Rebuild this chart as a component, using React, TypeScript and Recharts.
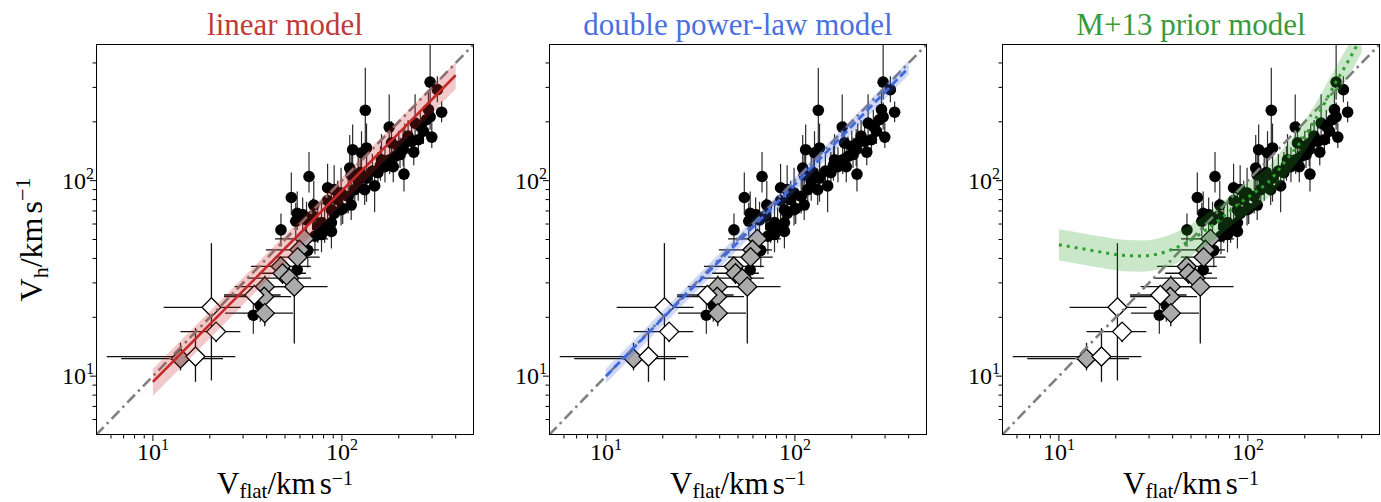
import React from "react";
import { ComposedChart, Scatter, Line, Area, XAxis, YAxis, ErrorBar } from "recharts";

// galaxies with flat rotation curves (black dots), V in km/s
const circVflat = [293, 337, 133, 287, 293, 244, 178, 270, 299, 224, 215, 234, 254, 114, 135, 127, 183, 203, 191, 179, 211, 162, 169, 155, 187, 213, 110, 112, 135, 122, 149, 132, 67, 54, 71, 84, 91, 99, 108, 117, 84, 101, 112, 91, 88, 78, 74.5, 58, 62, 57, 47.6, 88, 99, 81, 88, 78, 72, 66, 58, 37, 34, 320, 160, 145, 200, 260, 125, 95, 65, 70, 240, 280];
const circVh = [319, 224, 229, 231, 212, 197, 188, 179, 167, 169, 156, 159, 162, 144, 147, 139, 156, 136, 133, 128, 144, 128, 118, 110, 118, 108, 116, 107, 103, 99, 94, 90, 105, 82, 75, 92, 90, 86.5, 83, 90, 79, 72, 75, 68, 61, 61, 58, 68, 67, 62, 56, 71, 71, 58, 55, 53, 52, 44, 35, 23, 20.5, 292, 120, 112, 150, 190, 110, 80, 63, 66, 140, 205];
const circVhLo = [60, 25, 79, 30, 30, 30, 38, 25, 20, 25, 25, 20, 20, 30, 30, 25, 25, 20, 20, 20, 25, 20, 20, 20, 20, 20, 25, 20, 25, 20, 25, 15, 18, 15, 15, 20, 15, 15, 15, 15, 15, 12, 12, 12, 10, 10, 10, 12, 12, 10, 10, 12, 12, 10, 10, 10, 10, 8, 6, 4, 4, 40, 20, 20, 20, 25, 20, 15, 10, 10, 20, 25];
const circVhHi = [181, 30, 149, 60, 40, 80, 88, 35, 30, 35, 40, 30, 30, 50, 49, 40, 45, 30, 35, 30, 40, 45, 30, 30, 30, 25, 55, 30, 40, 35, 20, 25, 35, 28, 25, 30, 30, 30, 25, 25, 20, 20, 20, 20, 15, 18, 15, 20, 15, 15, 12, 18, 18, 15, 15, 12, 12, 10, 8, 5, 5, 50, 30, 25, 30, 40, 25, 20, 15, 15, 30, 35];

// grey diamonds
const grayVflat = [63.3, 59.6, 58.3, 47.5, 48.5, 52.7, 56, 39.1, 38.8, 39.1, 14.0];
const grayVh = [50.4, 44.3, 40.6, 36.4, 33.6, 31.7, 28.7, 28.7, 25.5, 21.0, 12.3];
const grayXLo = [19, 20, 14, 14.5, 12, 21, 14, 12, 15, 15, 7.2];
const grayXHi = [21, 16, 18, 21, 16, 16, 28, 14, 15, 16, 9.5];
const grayYLo = [6, 5, 5, 4, 4, 4, 14, 4, 4, 3, 1.6];
const grayYHi = [6, 5, 5, 4, 4, 4, 8, 4, 4, 4, 2.5];

// open diamonds
const whiteVflat = [20.4, 21.6, 16.8, 34.4];
const whiteVh = [22.5, 16.9, 12.6, 26.0];
const whiteXLo = [9, 7.6, 11.1, 10.6];
const whiteXHi = [8.7, 7.4, 10.5, 13];
const whiteYLo = [13, 2, 3.25, 2];
const whiteYHi = [25.4, 2, 5, 2];

// one-to-one line
const diagV = [5, 500];

// linear model
const linX = [10, 20, 50, 100, 200, 400];
const linY = [9.35, 18.4, 45.0, 88.8, 175, 346];
const linLo = [7.95, 15.6, 38.3, 75.5, 148.8, 294];
const linHi = [10.9, 21.5, 52.7, 103.9, 204.8, 405];

// double power-law model
const dplX = [10, 20, 50, 100, 200, 400];
const dplY = [10.0, 19.8, 48.5, 95.5, 190, 378];
const dplLo = [9.2, 18.2, 44.6, 87.9, 174.8, 347.8];
const dplHi = [10.9, 21.6, 52.9, 104.1, 207.1, 412];

// M+13 prior model
const m13X = [10, 13, 17, 22, 28, 36, 45, 57, 72, 86, 105, 129, 160, 194, 240, 291, 340, 400];
const m13Y = [47, 45, 43, 41.5, 41.2, 43, 47, 54, 64, 74, 85, 99, 128, 162, 225, 317, 410, 545];
const m13Lo = [39.0, 37.4, 35.7, 34.4, 34.2, 35.7, 39.0, 44.8, 53.1, 61.4, 70.6, 82.2, 106, 134.5, 186.8, 263, 340, 452];
const m13Hi = [56.4, 54, 51.6, 49.8, 49.4, 51.6, 56.4, 64.8, 76.8, 88.8, 102, 118.8, 153.6, 194.4, 270, 380, 492, 654];

const logTicks = [6, 7, 8, 9, 10, 20, 30, 40, 50, 60, 70, 80, 90, 100, 200, 300, 400];

const FONT = "'Liberation Serif', 'DejaVu Serif', serif";
const PLOT_W = 378;
const PLOT_H = 391;
const TOP = 44;
const YAXIS_W = 70;
const XAXIS_H = 67;

const circRows = circVflat.map((x, i) => ({ x, y: circVh[i], ey: [circVhLo[i], circVhHi[i]] }));
const grayRows = grayVflat.map((x, i) => ({
  x, y: grayVh[i], ex: [grayXLo[i], grayXHi[i]], ey: [grayYLo[i], grayYHi[i]],
}));
const whiteRows = whiteVflat.map((x, i) => ({
  x, y: whiteVh[i], ex: [whiteXLo[i], whiteXHi[i]], ey: [whiteYLo[i], whiteYHi[i]],
}));
const diagRows = diagV.map((v) => ({ x: v, y: v }));

const modelRows = (xs: number[], ys: number[], lo: number[], hi: number[]) =>
  xs.map((x, i) => ({ x, y: ys[i], band: [lo[i], hi[i]] }));

const dot = (p: any) => <circle cx={p.cx} cy={p.cy} r={5.8} fill="#000" />;
const diamond = (fill: string) => (p: any) => (
  <path
    d={`M${p.cx},${p.cy - 9.5}L${p.cx + 9.5},${p.cy}L${p.cx},${p.cy + 9.5}L${p.cx - 9.5},${p.cy}Z`}
    fill={fill}
    stroke="#000"
    strokeWidth={1.3}
  />
);

const isMajor = (v: number) => v === 10 || v === 100;

function XTick(props: any) {
  const { x, y, payload } = props;
  const v = payload.value;
  return (
    <g>
      <line x1={x} x2={x} y1={y} y2={y + (isMajor(v) ? 6 : 3.5)} stroke="#000" strokeWidth={1} />
      {isMajor(v) && (
        <text x={x} y={y + 25} textAnchor="middle" fontFamily={FONT} fontSize={24} fill="#000">
          10<tspan dy={-10} fontSize={16}>{v === 10 ? "1" : "2"}</tspan>
        </text>
      )}
    </g>
  );
}

function YTick(props: any) {
  const { x, y, payload } = props;
  const v = payload.value;
  return (
    <g>
      <line x1={x} x2={x - (isMajor(v) ? 6 : 3.5)} y1={y} y2={y} stroke="#000" strokeWidth={1} />
      {isMajor(v) && (
        <text x={x - 2} y={y + 8} textAnchor="end" fontFamily={FONT} fontSize={24} fill="#000">
          10<tspan dy={-10} fontSize={16}>{v === 10 ? "1" : "2"}</tspan>
        </text>
      )}
    </g>
  );
}

type PanelProps = {
  left: number;
  rows: any[];
  color: string;
  dash?: string;
  width: number;
  curve: "linear" | "monotone";
};

function Panel({ left, rows, color, dash, width, curve }: PanelProps) {
  return (
    <div style={{ position: "absolute", left: left - YAXIS_W, top: 0 }}>
      <ComposedChart
        width={YAXIS_W + PLOT_W + 1}
        height={TOP + PLOT_H + XAXIS_H}
        data={rows}
        margin={{ top: TOP, right: 1, left: 0, bottom: 0 }}
      >
        <XAxis
          dataKey="x"
          type="number"
          scale="log"
          domain={[5, 500]}
          allowDataOverflow
          ticks={logTicks}
          interval={0}
          tick={<XTick />}
          tickLine={false}
          axisLine={false}
          tickSize={0}
          tickMargin={0}
          height={XAXIS_H}
        />
        <YAxis
          dataKey="y"
          type="number"
          scale="log"
          domain={[5, 500]}
          allowDataOverflow
          ticks={logTicks}
          interval={0}
          tick={<YTick />}
          tickLine={false}
          axisLine={false}
          tickSize={0}
          tickMargin={0}
          width={YAXIS_W}
        />
        <Scatter data={circRows} shape={dot} isAnimationActive={false}>
          <ErrorBar dataKey="ey" direction="y" width={0} stroke="#2a2a2a" strokeWidth={1.2} />
        </Scatter>
        <Scatter data={grayRows} shape={diamond("#aaaaaa")} isAnimationActive={false}>
          <ErrorBar dataKey="ex" direction="x" width={0} stroke="#111" strokeWidth={1.3} />
          <ErrorBar dataKey="ey" direction="y" width={0} stroke="#111" strokeWidth={1.3} />
        </Scatter>
        <Scatter data={whiteRows} shape={diamond("#ffffff")} isAnimationActive={false}>
          <ErrorBar dataKey="ex" direction="x" width={0} stroke="#111" strokeWidth={1.3} />
          <ErrorBar dataKey="ey" direction="y" width={0} stroke="#111" strokeWidth={1.3} />
        </Scatter>
        <Line
          data={diagRows}
          dataKey="y"
          stroke="#808080"
          strokeWidth={2.6}
          strokeDasharray="11 4.5 2.5 4.5"
          dot={false}
          activeDot={false}
          isAnimationActive={false}
          zIndex={650}
        />
        <Area
          dataKey="band"
          type={curve}
          stroke="none"
          fill={color}
          fillOpacity={0.25}
          isAnimationActive={false}
          activeDot={false}
          zIndex={700}
        />
        <Line
          dataKey="y"
          type={curve}
          stroke={color}
          strokeWidth={width}
          strokeDasharray={dash}
          strokeLinecap="butt"
          dot={false}
          activeDot={false}
          isAnimationActive={false}
          zIndex={800}
        />
      </ComposedChart>
    </div>
  );
}

const panels = [
  { left: 96, title: "linear model", titleColor: "#c03a3a", color: "#c62828", dash: undefined, width: 2.6, curve: "linear" as const, rows: modelRows(linX, linY, linLo, linHi) },
  { left: 549, title: "double power-law model", titleColor: "#4a70e0", color: "#4169e1", dash: "8 4", width: 2.8, curve: "linear" as const, rows: modelRows(dplX, dplY, dplLo, dplHi) },
  { left: 1002, title: "M+13 prior model", titleColor: "#3a9a3a", color: "#2ca02c", dash: "3 5", width: 3, curve: "monotone" as const, rows: modelRows(m13X, m13Y, m13Lo, m13Hi) },
];

function XLabel({ cx }: { cx: number }) {
  return (
    <text x={cx} y={494} textAnchor="middle" fontFamily={FONT} fontSize={31} fill="#000">
      V<tspan fontSize={21} dy={4}>flat</tspan>
      <tspan dy={-4}>/km</tspan>
      <tspan dx={4}>s</tspan>
      <tspan fontSize={20} dy={-9}>−1</tspan>
    </text>
  );
}

export default function App() {
  return (
    <div style={{ position: "absolute", left: 0, top: 0, width: 1381, height: 502, overflow: "hidden", background: "#fff" }}>
      {panels.map((p) => (
        <Panel key={p.title} left={p.left} rows={p.rows} color={p.color} dash={p.dash} width={p.width} curve={p.curve} />
      ))}
      {panels.map((p) => (
        <div
          key={p.title + "-frame"}
          style={{
            position: "absolute",
            left: p.left,
            top: TOP,
            width: PLOT_W,
            height: PLOT_H,
            border: "1px solid #000",
            boxSizing: "border-box",
            pointerEvents: "none",
          }}
        />
      ))}
      <svg width={1381} height={502} style={{ position: "absolute", left: 0, top: 0, pointerEvents: "none" }}>
        {panels.map((p) => (
          <text
            key={p.title + "-title"}
            x={p.left + PLOT_W / 2}
            y={35}
            textAnchor="middle"
            fontFamily={FONT}
            fontSize={31}
            fill={p.titleColor}
          >
            {p.title}
          </text>
        ))}
        {panels.map((p) => (
          <XLabel key={p.title + "-xl"} cx={p.left + PLOT_W / 2} />
        ))}
        <text
          transform={`translate(42, ${TOP + PLOT_H / 2}) rotate(-90)`}
          textAnchor="middle"
          fontFamily={FONT}
          fontSize={32}
          fill="#000"
        >
          V<tspan fontSize={22} dy={6}>h</tspan>
          <tspan dy={-6}>/km</tspan>
          <tspan dx={4}>s</tspan>
          <tspan fontSize={22} dy={-12}>−1</tspan>
        </text>
      </svg>
    </div>
  );
}
